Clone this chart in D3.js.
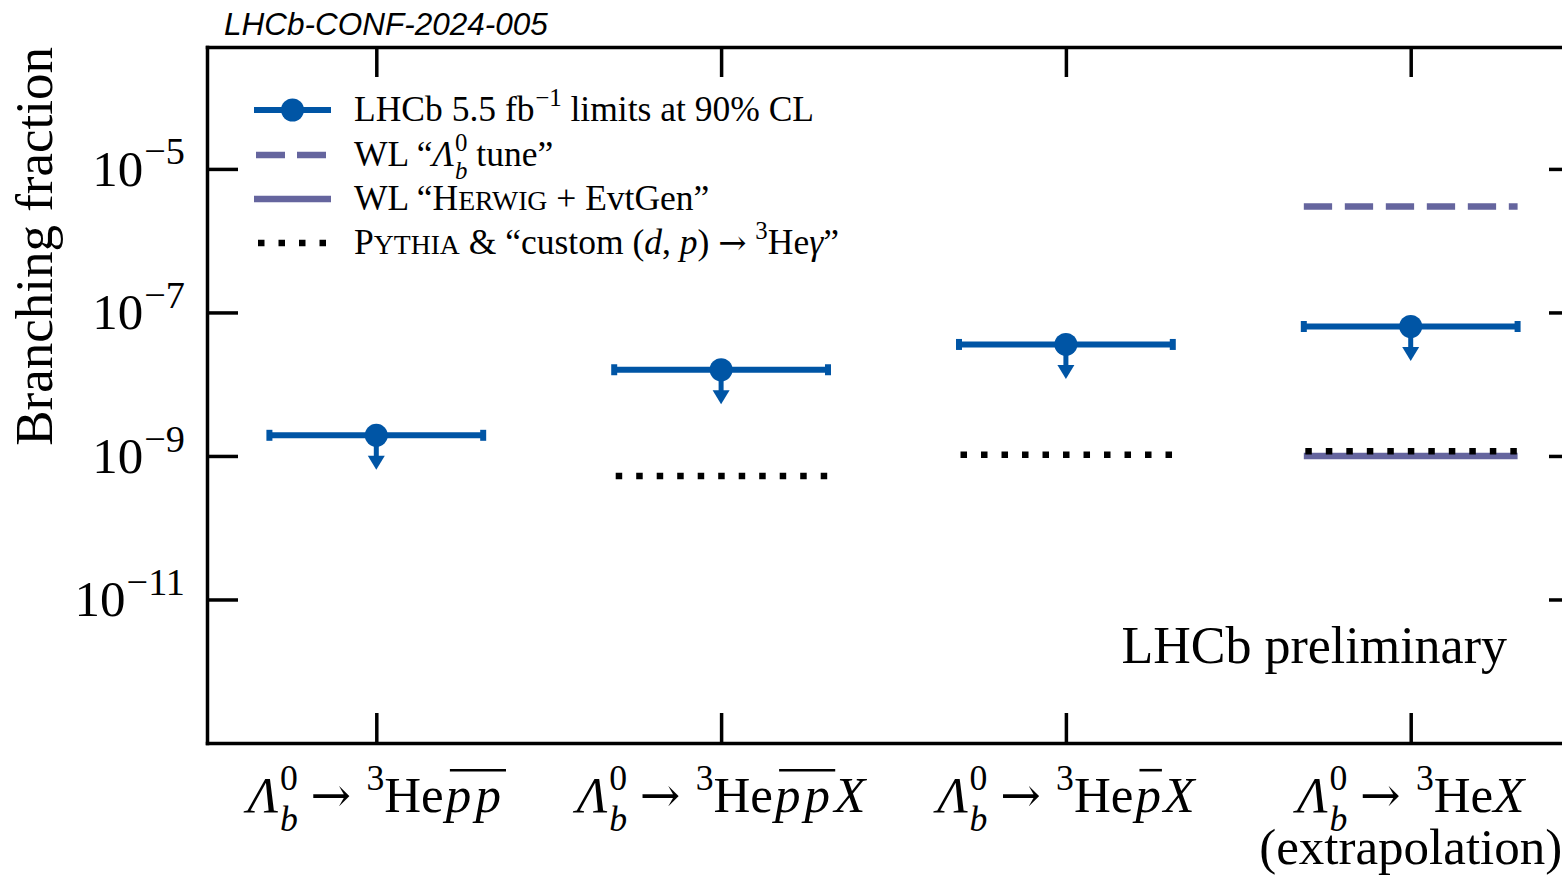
<!DOCTYPE html>
<html>
<head>
<meta charset="utf-8">
<script src="https://cdn.jsdelivr.net/npm/d3@7"></script>
<style>
  html, body { margin: 0; padding: 0; background: #fff; overflow: hidden; }
  svg { display: block; }
</style>
</head>
<body>
<script>
// Λb0 -> 3He + X searches: upper limits vs. model predictions
const positions = [0, 1, 2, 3];
const lhcbLimits = [1.94e-9, 1.59e-8, 3.58e-8, 6.37e-8];      // 90% CL upper limits
const pythiaCustom = [null, 5.27e-10, 1.04e-9, 1.16e-9];     // Pythia & custom coalescence
const wlTune = [null, null, null, 3.0e-6];                   // WL "Λb tune"
const wlHerwig = [null, null, null, 1.0e-9];                 // WL "Herwig + EvtGen"
const binHalfWidth = 0.31;
const yTickValues = [1e-5, 1e-7, 1e-9, 1e-11];
const yTickExponents = ["\u22125", "\u22127", "\u22129", "\u221211"];
const yDomain = [1e-13, 5e-4];
const xDomain = [-0.491, 3.491];

const W = 1562, H = 875;
const plot = { left: 207, right: 1580, top: 47, bottom: 743 };
const BLUE = "#0055a5";
const PURPLE = "#65659e";
const SERIF = "'Liberation Serif', 'Times New Roman', serif";
const ARROW_FONT = "'DejaVu Serif', serif";

const svg = d3.select("body").append("svg").attr("width", W).attr("height", H);

const x = d3.scaleLinear().domain(xDomain).range([plot.left, plot.right]);
const y = d3.scaleLog().domain(yDomain).range([plot.bottom, plot.top]);

// Rich text in one <text> element: lines of segments with italics,
// super/subscripts (optionally stacked) and overlines.
function rich(parent, lines, o) {
  const g = parent.append("g").attr("fill", "#000");
  const text = g.append("text").attr("font-family", SERIF).style("white-space", "pre");
  const lineGap = o.lineGap || o.size * 1.04;
  lines.forEach((segs, li) => {
    const baseY = o.y + li * lineGap;
    let cur = 0, lastStart = 0;
    const placed = [];
    segs.forEach(s => {
      const fs = o.size * (s.k || 1);
      const dy = s.sh === "sup" ? -o.size * (o.supShift || 0.4)
               : s.sh === "sub" ? o.size * (o.subShift || 0.3) : 0;
      const start = s.stack ? lastStart : cur + (s.pre || 0) * o.size;
      const ts = text.append("tspan")
        .attr("x", start).attr("y", baseY + dy)
        .attr("font-size", fs)
        .attr("font-style", s.i ? "italic" : "normal")
        .text(s.t);
      if (s.f) ts.attr("font-family", s.f);
      if (s.ls) ts.attr("letter-spacing", s.ls * o.size);
      const w = ts.node().getComputedTextLength();
      placed.push({ ts, start, w, over: s.over });
      const end = start + w + (s.post || 0) * o.size;
      if (s.stack) cur = Math.max(cur, end);
      else { lastStart = start; cur = end; }
    });
    const shift = o.anchor === "middle" ? -cur / 2 : o.anchor === "end" ? -cur : 0;
    placed.forEach(p => {
      p.ts.attr("x", o.x + shift + p.start);
      if (p.over) {
        g.append("line")
          .attr("x1", o.x + shift + p.start + o.size * 0.08)
          .attr("x2", o.x + shift + p.start + p.w + o.size * 0.02)
          .attr("y1", baseY - o.size * 0.82).attr("y2", baseY - o.size * 0.82)
          .attr("stroke", "#000").attr("stroke-width", o.size * 0.05);
      }
    });
  });
  return g;
}

const arrowSeg = { t: "\u2192", f: ARROW_FONT, k: 0.95, pre: 0.25, post: 0.25 };
const lambdaB = [
  { t: "\u039B", i: true, post: 0.03 },
  { t: "b", i: true, k: 0.7, sh: "sub" },
  { t: "0", k: 0.7, sh: "sup", stack: true },
  arrowSeg,
  { t: "3", k: 0.7, sh: "sup", pre: 0.05 },
  { t: "He" }
];
const decayLabels = [
  [...lambdaB, { t: "pp", i: true, over: true, ls: 0.08, pre: 0.04 }],
  [...lambdaB, { t: "pp", i: true, over: true, ls: 0.08, pre: 0.04 }, { t: "X", i: true }],
  [...lambdaB, { t: "p", i: true, over: true, pre: 0.04, post: 0.05 }, { t: "X", i: true }],
  [...lambdaB, { t: "X", i: true }]
];
const decayNotes = [null, null, null, "(extrapolation)"];

// ---- axes (ticks point inward on all four sides) ----
function styleAxis(g) {
  g.selectAll("path.domain").attr("stroke", "#000").attr("stroke-width", 3.5).attr("stroke-linecap", "square");
  g.selectAll(".tick line").attr("stroke", "#000").attr("stroke-width", 3.5);
  g.selectAll(".tick text").remove();
}
svg.append("g").attr("transform", `translate(${plot.left},0)`)
  .call(d3.axisLeft(y).tickValues(yTickValues).tickSizeInner(-31).tickSizeOuter(0).tickFormat(""))
  .call(styleAxis);
svg.append("g").attr("transform", `translate(${plot.right},0)`)
  .call(d3.axisRight(y).tickValues(yTickValues).tickSizeInner(-31).tickSizeOuter(0).tickFormat(""))
  .call(styleAxis);
svg.append("g").attr("transform", `translate(0,${plot.bottom})`)
  .call(d3.axisBottom(x).tickValues(positions).tickSizeInner(-30).tickSizeOuter(0).tickFormat(""))
  .call(styleAxis);
svg.append("g").attr("transform", `translate(0,${plot.top})`)
  .call(d3.axisTop(x).tickValues(positions).tickSizeInner(-30).tickSizeOuter(0).tickFormat(""))
  .call(styleAxis);

// y tick labels 10^n
yTickValues.forEach((v, i) => {
  rich(svg, [[{ t: "10" }, { t: yTickExponents[i], k: 0.75, sh: "sup", pre: 0.02 }]],
    { x: plot.left - 22, y: y(v) + 17, size: 51, anchor: "end", supShift: 0.42 });
});

// x tick labels (decay modes)
positions.forEach((p, i) => {
  const lines = [decayLabels[i]];
  if (decayNotes[i]) lines.push([{ t: decayNotes[i] }]);
  rich(svg, lines, { x: x(p), y: 812, size: 51, anchor: "middle", supShift: 0.44, subShift: 0.37, lineGap: 52 });
});

// axis title
svg.append("text")
  .attr("transform", `translate(52,${plot.top}) rotate(-90)`)
  .attr("text-anchor", "end")
  .attr("font-family", SERIF).attr("font-size", 53)
  .text("Branching fraction");

// header and status
svg.append("text")
  .attr("x", 224).attr("y", 35)
  .attr("font-family", "'Liberation Sans', Arial, sans-serif")
  .attr("font-style", "italic").attr("font-size", 31.5)
  .text("LHCb-CONF-2024-005");
svg.append("text")
  .attr("x", 1507).attr("y", 663)
  .attr("text-anchor", "end")
  .attr("font-family", SERIF).attr("font-size", 52)
  .text("LHCb preliminary");

// ---- model predictions ----
const marks = svg.append("g");
const seg = arr => positions.filter((p, i) => arr[i] != null).map(p => ({ p, v: arr[positions.indexOf(p)] }));

marks.selectAll("line.herwig").data(seg(wlHerwig)).join("line")
  .attr("x1", d => x(d.p - binHalfWidth)).attr("x2", d => x(d.p + binHalfWidth))
  .attr("y1", d => y(d.v)).attr("y2", d => y(d.v))
  .attr("stroke", PURPLE).attr("stroke-width", 6.5);

marks.selectAll("line.tune").data(seg(wlTune)).join("line")
  .attr("x1", d => x(d.p - binHalfWidth)).attr("x2", d => x(d.p + binHalfWidth))
  .attr("y1", d => y(d.v)).attr("y2", d => y(d.v))
  .attr("stroke", PURPLE).attr("stroke-width", 6.5)
  .attr("stroke-dasharray", "28.3 12.7");

marks.selectAll("line.pythia").data(seg(pythiaCustom)).join("line")
  .attr("x1", d => x(d.p - binHalfWidth) + 1.5).attr("x2", d => x(d.p + binHalfWidth))
  .attr("y1", d => y(d.v)).attr("y2", d => y(d.v))
  .attr("stroke", "#000").attr("stroke-width", 6.5)
  .attr("stroke-dasharray", "6.5 14");

// ---- LHCb upper limits: horizontal bin, caps, down arrow, marker ----
const limits = positions.map((p, i) => ({ p, v: lhcbLimits[i] }));
const arrowDecades = 0.48;
const lim = svg.append("g");
lim.selectAll("line.bin").data(limits).join("line")
  .attr("x1", d => x(d.p - binHalfWidth)).attr("x2", d => x(d.p + binHalfWidth))
  .attr("y1", d => y(d.v)).attr("y2", d => y(d.v))
  .attr("stroke", BLUE).attr("stroke-width", 6);
[-1, 1].forEach(sgn => {
  lim.selectAll(null).data(limits).join("line")
    .attr("x1", d => x(d.p + sgn * binHalfWidth)).attr("x2", d => x(d.p + sgn * binHalfWidth))
    .attr("y1", d => y(d.v) - 5.5).attr("y2", d => y(d.v) + 5.5)
    .attr("stroke", BLUE).attr("stroke-width", 6);
});
lim.selectAll("line.stem").data(limits).join("line")
  .attr("x1", d => x(d.p)).attr("x2", d => x(d.p))
  .attr("y1", d => y(d.v)).attr("y2", d => y(d.v / Math.pow(10, arrowDecades)) - 12)
  .attr("stroke", BLUE).attr("stroke-width", 5);
lim.selectAll("path.head").data(limits).join("path")
  .attr("d", d => {
    const cx = x(d.p), tip = y(d.v / Math.pow(10, arrowDecades));
    return `M${cx - 8.5},${tip - 14}L${cx + 8.5},${tip - 14}L${cx},${tip}Z`;
  })
  .attr("fill", BLUE);
lim.selectAll("circle").data(limits).join("circle")
  .attr("cx", d => x(d.p)).attr("cy", d => y(d.v)).attr("r", 11.5)
  .attr("fill", BLUE);

// ---- legend ----
const legend = svg.append("g");
const lx1 = 254, lx2 = 331, ltx = 354;
const rows = [110, 155, 199, 243];
legend.append("line").attr("x1", lx1).attr("x2", lx2).attr("y1", rows[0]).attr("y2", rows[0])
  .attr("stroke", BLUE).attr("stroke-width", 6);
legend.append("circle").attr("cx", (lx1 + lx2) / 2).attr("cy", rows[0]).attr("r", 11.5).attr("fill", BLUE);
legend.append("line").attr("x1", lx1 + 2).attr("x2", lx2).attr("y1", rows[1]).attr("y2", rows[1])
  .attr("stroke", PURPLE).attr("stroke-width", 6.5).attr("stroke-dasharray", "29 12");
legend.append("line").attr("x1", lx1).attr("x2", lx2).attr("y1", rows[2]).attr("y2", rows[2])
  .attr("stroke", PURPLE).attr("stroke-width", 6.5);
legend.append("line").attr("x1", lx1 + 4).attr("x2", lx2).attr("y1", rows[3]).attr("y2", rows[3])
  .attr("stroke", "#000").attr("stroke-width", 6.5).attr("stroke-dasharray", "6.5 14");

const LS = 35.5;
const legendTexts = [
  [{ t: "LHCb 5.5 fb" }, { t: "\u22121", k: 0.7, sh: "sup", pre: 0.02 }, { t: " limits at 90% CL" }],
  [{ t: "WL \u201C" }, { t: "\u039B", i: true, post: 0.03 }, { t: "b", i: true, k: 0.7, sh: "sub" },
   { t: "0", k: 0.7, sh: "sup", stack: true }, { t: " tune\u201D" }],
  [{ t: "WL \u201CH" }, { t: "ERWIG", k: 0.78 }, { t: " + EvtGen\u201D" }],
  [{ t: "P" }, { t: "YTHIA", k: 0.78 }, { t: " & \u201Ccustom (" }, { t: "d", i: true }, { t: ", " },
   { t: "p", i: true }, { t: ")" }, { t: "\u2192", f: ARROW_FONT, k: 0.95, pre: 0.25, post: 0.25 },
   { t: "3", k: 0.7, sh: "sup" }, { t: "He" },
   { t: "\u03B3", i: true }, { t: "\u201D" }]
];
legendTexts.forEach((segs, i) => {
  rich(legend, [segs], { x: ltx, y: rows[i] + 11, size: LS, anchor: "start", supShift: 0.42, subShift: 0.38 });
});
</script>
</body>
</html>
